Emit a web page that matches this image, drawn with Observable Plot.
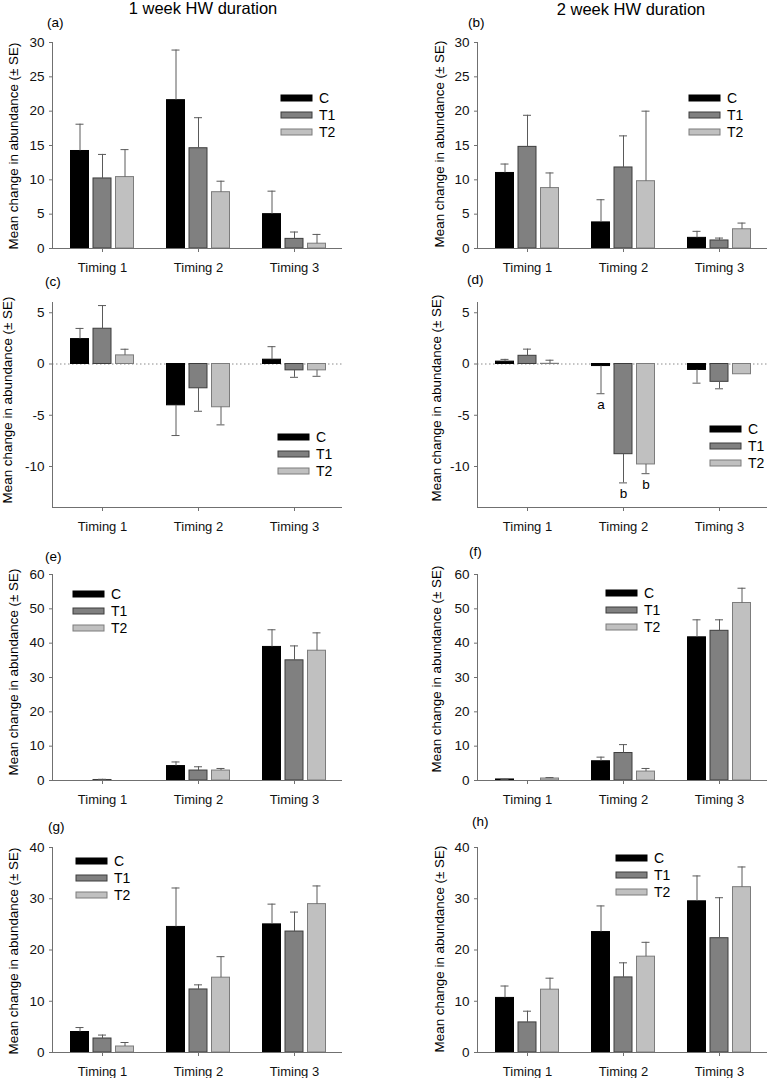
<!DOCTYPE html>
<html><head><meta charset="utf-8">
<script src="https://cdn.jsdelivr.net/npm/d3@7"></script>
<script src="https://cdn.jsdelivr.net/npm/@observablehq/plot@0.6"></script>
<style>
body{margin:0;background:#fff;}
#root{position:relative;width:768px;height:1078px;overflow:hidden;font-family:"Liberation Sans",Arial,sans-serif;background:#fff;}
.panel{position:absolute;}
#overlay{position:absolute;left:0;top:0;}
</style></head><body><div id="root"></div>
<script>
// ---------- data ----------
const timings = ["Timing 1", "Timing 2", "Timing 3"];
const treatments = ["C", "T1", "T2"];
const titles = ["1 week HW duration", "2 week HW duration"];
const panelNames = ["(a)", "(b)", "(c)", "(d)", "(e)", "(f)", "(g)", "(h)"];
const yLabel = "Mean change in abundance (\u00b1 SE)";

// rows = treatments C, T1, T2; columns = Timing 1, 2, 3
const a_mean = [[14.2, 21.6, 5.0], [10.2, 14.6, 1.4], [10.4, 8.2, 0.7]];
const a_se   = [[3.9, 7.3, 3.35], [3.5, 4.45, 1.0], [4.0, 1.6, 1.35]];
const b_mean = [[11.0, 3.8, 1.55], [14.8, 11.8, 1.17], [8.8, 9.8, 2.8]];
const b_se   = [[1.3, 3.3, 0.95], [4.6, 4.6, 0.35], [2.2, 10.2, 0.9]];
const c_mean = [[2.43, -4.03, 0.42], [3.44, -2.37, -0.62], [0.84, -4.22, -0.62]];
const c_se   = [[1.04, 2.95, 1.27], [2.26, 2.24, 0.68], [0.6, 1.72, 0.58]];
const d_mean = [[0.23, -0.2, -0.58], [0.8, -8.8, -1.74], [0.02, -9.8, -1.0]];
const d_se   = [[0.22, 2.7, 1.29], [0.65, 2.8, 0.68], [0.35, 0.9, 0]];
const e_mean = [[0, 4.2, 38.9], [0.15, 2.9, 35.0], [0, 2.9, 37.8]];
const e_se   = [[0, 1.2, 5.0], [0.2, 1.1, 4.2], [0, 0.6, 5.2]];
const f_mean = [[0.3, 5.6, 41.7], [0, 8.0, 43.6], [0.58, 2.6, 51.7]];
const f_se   = [[0.05, 1.2, 5.1], [0, 2.45, 3.2], [0.27, 0.9, 4.3]];
const g_mean = [[4.0, 24.5, 25.0], [2.73, 12.3, 23.6], [1.17, 14.6, 28.95]];
const g_se   = [[0.87, 7.6, 3.95], [0.67, 0.9, 3.8], [0.78, 4.1, 3.55]];
const h_mean = [[10.65, 23.5, 29.5], [5.87, 14.65, 22.3], [12.26, 18.7, 32.26]];
const h_se   = [[2.32, 5.1, 4.95], [2.19, 2.85, 7.9], [2.24, 2.8, 3.94]];
const d_letters = [["Timing 2", "C", "a"], ["Timing 2", "T1", "b"], ["Timing 2", "T2", "b"]];

const ticks30 = [0, 5, 10, 15, 20, 25, 30];
const ticksNeg = [-10, -5, 0, 5];
const ticks60 = [0, 10, 20, 30, 40, 50, 60];
const ticks40 = [0, 10, 20, 30, 40];

// ---------- styles / layout ----------
const fills = ["#000000", "#808080", "#c0c0c0"];
const strokes = ["#000000", "#3c3c3c", "#7c7c7c"];
const errColor = "#5a5a5a";
const axisColor = "#707070";
const FONT = "Liberation Sans, Arial, sans-serif";

const panels = [
  {mean: a_mean, se: a_se, domain: [0, 30], ticks: ticks30, col: 0, row: 0, leg: [281, 98]},
  {mean: b_mean, se: b_se, domain: [0, 30], ticks: ticks30, col: 1, row: 0, leg: [689, 98]},
  {mean: c_mean, se: c_se, domain: [-14, 6], ticks: ticksNeg, col: 0, row: 1, leg: [278, 437], zero: true},
  {mean: d_mean, se: d_se, domain: [-14, 6], ticks: ticksNeg, col: 1, row: 1, leg: [710, 429], zero: true, letters: d_letters},
  {mean: e_mean, se: e_se, domain: [0, 60], ticks: ticks60, col: 0, row: 2, leg: [73, 594]},
  {mean: f_mean, se: f_se, domain: [0, 60], ticks: ticks60, col: 1, row: 2, leg: [606, 593]},
  {mean: g_mean, se: g_se, domain: [0, 40], ticks: ticks40, col: 0, row: 3, leg: [76, 861]},
  {mean: h_mean, se: h_se, domain: [0, 40], ticks: ticks40, col: 1, row: 3, leg: [616, 858]}
];
const rowTop = [42, 302, 574, 847];
const rowH = [206, 205, 206, 205];
const colLeft = [0, 384];
const colMarginLeft = [52, 93];
const plotW = 290;
const MT = 20, MB = 32;

const root = document.getElementById("root");

panels.forEach((p) => {
  const rows = [];
  treatments.forEach((t, j) => timings.forEach((tm, i) => {
    const m = p.mean[j][i], s = p.se[j][i];
    rows.push({timing: tm, trt: t, j, mean: m, se: s, end: m + (m < 0 ? -s : s)});
  }));
  const bw = (plotW - 2) / 3;
  const marks = [];
  if (p.zero) marks.push(Plot.ruleY([0], {stroke: "#8a8a8a", strokeDasharray: "1.5,2.5"}));
  treatments.forEach((t, j) => {
    const d = rows.filter(r => r.trt === t);
    const de = d.filter(r => r.se > 0);
    const dx = (j - 1) * 22.5;
    marks.push(Plot.barY(d, {x: "timing", y: "mean", fill: fills[j], stroke: strokes[j], strokeWidth: 1, dx, insetLeft: (bw - 18) / 2, insetRight: (bw - 18) / 2}));
    marks.push(Plot.ruleX(de, {x: "timing", y1: "mean", y2: "end", stroke: errColor, dx}));
    marks.push(Plot.tickY(de, {x: "timing", y: "end", stroke: errColor, dx, insetLeft: (bw - 8) / 2, insetRight: (bw - 8) / 2}));
  });
  if (p.letters) {
    const ld = p.letters.map(([tm, trt, lab]) => {
      const r = rows.find(q => q.timing === tm && q.trt === trt);
      return {timing: tm, end: r.end, lab, dx: (r.j - 1) * 22.5};
    });
    ld.forEach(l => marks.push(Plot.text([l], {x: "timing", y: "end", text: "lab", dx: l.dx, dy: 11, fontSize: 13.5, fill: "#000"})));
  }
  marks.push(Plot.ruleY([p.domain[0]], {stroke: axisColor}));
  marks.push(Plot.frame({anchor: "left", stroke: axisColor}));
  marks.push(Plot.axisY({ticks: p.ticks, tickSize: 3, tickPadding: 5, tickFormat: d => String(d), label: null, stroke: axisColor, fill: "#111", fontSize: 13.5}));
  marks.push(Plot.axisX({tickSize: 4, tickPadding: 10, label: null, stroke: axisColor, fill: "#111", fontSize: 13}));

  const ml = colMarginLeft[p.col];
  const h = rowH[p.row];
  const svg = Plot.plot({
    width: 384, height: MT + h + MB,
    marginLeft: ml, marginRight: 384 - ml - plotW, marginTop: MT, marginBottom: MB,
    x: {type: "band", domain: timings, padding: 0, insetLeft: 2},
    y: {domain: p.domain},
    style: {background: "transparent", overflow: "visible", fontFamily: FONT, fontSize: "13px", color: "#111"},
    marks
  });
  svg.classList.add("panel");
  svg.style.position = "absolute";
  svg.style.left = colLeft[p.col] + "px";
  svg.style.top = (rowTop[p.row] - MT) + "px";
  root.appendChild(svg);
});

// ---------- overlay: titles, panel letters, y labels, legends ----------
const ov = d3.select(root).append("svg").attr("id", "overlay").attr("width", 768).attr("height", 1078)
  .style("font-family", FONT).style("pointer-events", "none");
ov.append("text").attr("x", 203).attr("y", 14).attr("text-anchor", "middle").attr("font-size", 16.5).text(titles[0]);
ov.append("text").attr("x", 631).attr("y", 15).attr("text-anchor", "middle").attr("font-size", 16.5).text(titles[1]);

const letterPos = [[47, 27], [468, 27], [45, 286], [467, 284], [45, 561], [469, 556], [48, 831], [472, 826]];
letterPos.forEach(([x, y], i) => ov.append("text").attr("x", x).attr("y", y).attr("font-size", 13.5).text(panelNames[i]));

const ylabPos = [[13, 146], [439, 144], [7, 400], [436, 398], [13, 672], [436, 669], [13, 951], [439, 949]];
ylabPos.forEach(([x, y]) => ov.append("text").attr("transform", `translate(${x},${y}) rotate(-90)`)
  .attr("text-anchor", "middle").attr("dominant-baseline", "central").attr("font-size", 13.4).text(yLabel));

panels.forEach(p => {
  const [lx, ly] = p.leg;
  treatments.forEach((t, j) => {
    const cy = ly + j * 17;
    ov.append("rect").attr("x", lx).attr("y", cy - 3).attr("width", 31).attr("height", 6)
      .attr("fill", fills[j]).attr("stroke", strokes[j]);
    ov.append("text").attr("x", lx + 38).attr("y", cy).attr("dominant-baseline", "central")
      .attr("font-size", 14).text(t);
  });
});
</script></body></html>
